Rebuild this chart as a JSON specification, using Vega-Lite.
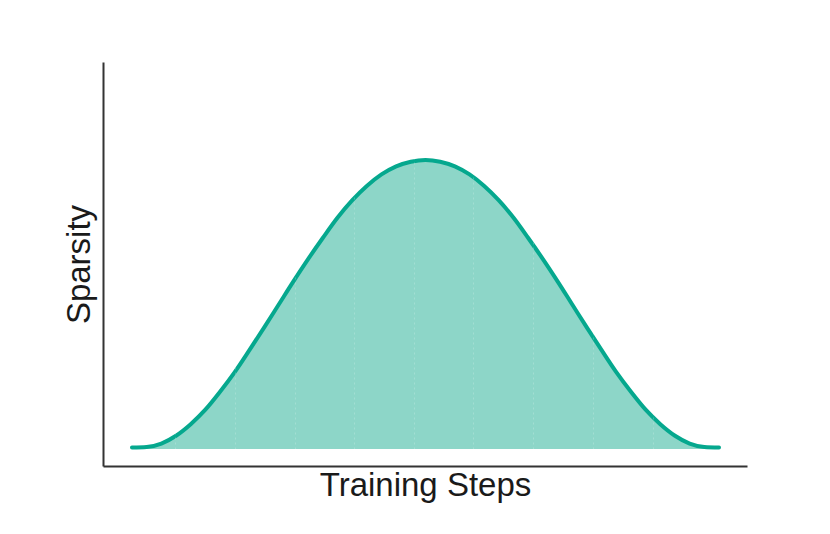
{
  "$schema": "https://vega.github.io/schema/vega-lite/v6.json",
  "width": 644,
  "height": 404,
  "autosize": "none",
  "padding": {"left": 103, "top": 62, "right": 83, "bottom": 68},
  "background": "white",
  "config": {
    "view": {"stroke": null},
    "axis": {
      "titleFont": "Liberation Sans",
      "titleFontWeight": "normal",
      "titleFontSize": 33,
      "titleColor": "#1a1a1a",
      "domainColor": "#333333",
      "domainWidth": 2,
      "ticks": false,
      "labels": false
    }
  },
  "data": {
    "values": [
      {"step": 0, "sparsity": 0.5},
      {"step": 2.5, "sparsity": 0.7},
      {"step": 5, "sparsity": 1.9},
      {"step": 7.5, "sparsity": 4.6},
      {"step": 10, "sparsity": 8.6},
      {"step": 12.5, "sparsity": 13.6},
      {"step": 15, "sparsity": 19.8},
      {"step": 17.5, "sparsity": 26.6},
      {"step": 20, "sparsity": 34.2},
      {"step": 22.5, "sparsity": 42.0},
      {"step": 25, "sparsity": 50.0},
      {"step": 27.5, "sparsity": 58.0},
      {"step": 30, "sparsity": 65.7},
      {"step": 32.5, "sparsity": 73.0},
      {"step": 35, "sparsity": 80.0},
      {"step": 37.5, "sparsity": 86.0},
      {"step": 40, "sparsity": 91.0},
      {"step": 42.5, "sparsity": 95.0},
      {"step": 45, "sparsity": 97.8},
      {"step": 47.5, "sparsity": 99.4},
      {"step": 50, "sparsity": 100},
      {"step": 52.5, "sparsity": 99.4},
      {"step": 55, "sparsity": 97.8},
      {"step": 57.5, "sparsity": 95.0},
      {"step": 60, "sparsity": 91.0},
      {"step": 62.5, "sparsity": 86.0},
      {"step": 65, "sparsity": 80.0},
      {"step": 67.5, "sparsity": 73.0},
      {"step": 70, "sparsity": 65.7},
      {"step": 72.5, "sparsity": 58.0},
      {"step": 75, "sparsity": 50.0},
      {"step": 77.5, "sparsity": 42.0},
      {"step": 80, "sparsity": 34.2},
      {"step": 82.5, "sparsity": 26.6},
      {"step": 85, "sparsity": 19.8},
      {"step": 87.5, "sparsity": 13.6},
      {"step": 90, "sparsity": 8.6},
      {"step": 92.5, "sparsity": 4.6},
      {"step": 95, "sparsity": 1.9},
      {"step": 97.5, "sparsity": 0.7},
      {"step": 100, "sparsity": 0.5}
    ]
  },
  "layer": [
    {
      "mark": {"type": "area", "color": "#8dd6c8", "interpolate": "monotone"},
      "encoding": {
        "x": {
          "field": "step",
          "type": "quantitative",
          "scale": {"domain": [-4.94, 104.77], "nice": false, "zero": false},
          "axis": {
            "title": "Training Steps",
            "grid": true,
            "gridColor": "white",
            "gridOpacity": 0.2,
            "gridDash": [2, 3],
            "values": [7.3, 17.5, 27.7, 37.8, 48.0, 58.1, 68.3, 78.5, 88.7],
            "zindex": 1,
            "titlePadding": 3
          }
        },
        "y": {
          "field": "sparsity",
          "type": "quantitative",
          "scale": {"domain": [-5.88, 133.9], "nice": false},
          "axis": {"title": "Sparsity", "grid": false, "titlePadding": 7}
        },
        "y2": {"datum": 0}
      }
    },
    {
      "mark": {"type": "line", "color": "#05a88e", "strokeWidth": 4, "strokeCap": "round", "interpolate": "monotone"},
      "encoding": {
        "x": {"field": "step", "type": "quantitative"},
        "y": {"field": "sparsity", "type": "quantitative"}
      }
    }
  ]
}
